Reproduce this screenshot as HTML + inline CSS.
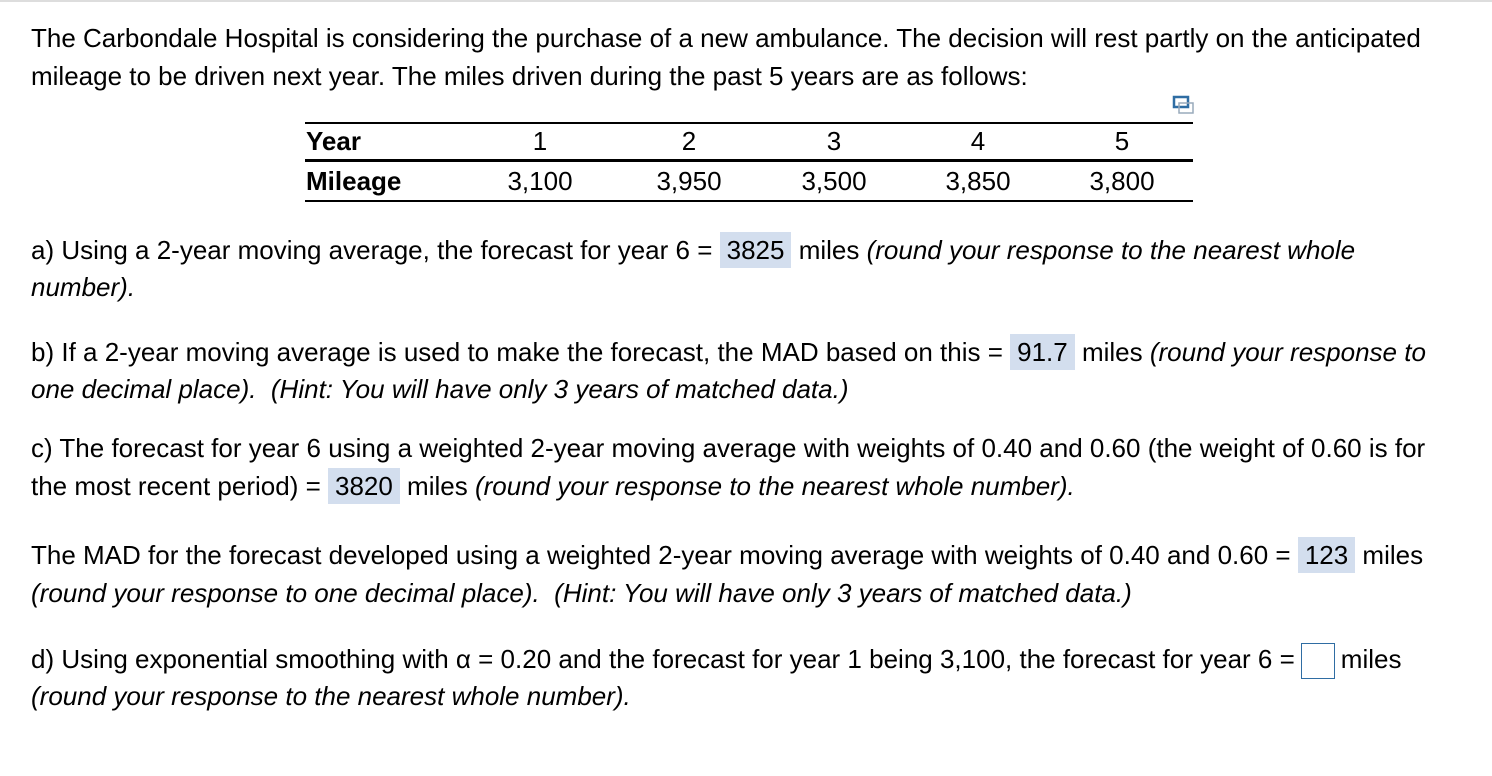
<!DOCTYPE html>
<html><head><meta charset="utf-8"><style>
body{margin:0;width:1492px;height:776px;background:#fff;position:relative;overflow:hidden;font-family:"Liberation Sans",Arial,sans-serif;color:#000;}
.l{position:absolute;left:31px;font-size:26px;line-height:38px;height:38px;white-space:nowrap;}
.h{background:#d3deee;padding:0 7px;display:inline-block;line-height:36px;}
.box{display:inline-block;width:32px;height:34px;border:1.5px solid #2f6da3;vertical-align:middle;margin:0 6px;}
.hr{position:absolute;left:305px;width:888px;background:#000;}
.t{position:absolute;font-size:26px;line-height:30px;white-space:nowrap;}
.c{transform:translateX(-50%);}
</style></head><body>
<div style="position:absolute;left:0;top:0;width:1492px;height:2px;background:#ddd"></div>
<div class="l" style="top:19px">The Carbondale Hospital is considering the purchase of a new ambulance. The decision will rest partly on the anticipated</div>
<div class="l" style="top:57px">mileage to be driven next year. The miles driven during the past 5 years are as follows:</div>
<svg style="position:absolute;left:1172px;top:95px" width="24" height="22"><rect x="2" y="2" width="14" height="10" fill="#fff" stroke="#2f6da3" stroke-width="2.5"/><rect x="7" y="8" width="14" height="10" fill="none" stroke="#9ab" stroke-width="1.5"/></svg>
<div class="hr" style="top:122px;height:2px"></div>
<div class="hr" style="top:159px;height:3px"></div>
<div class="hr" style="top:200px;height:1.5px"></div>
<div class="t" style="left:306px;top:126px;font-weight:bold">Year</div>
<div class="t" style="left:306px;top:166px;font-weight:bold">Mileage</div>
<div class="t c" style="left:540px;top:126px">1</div>
<div class="t c" style="left:689px;top:126px">2</div>
<div class="t c" style="left:834px;top:126px">3</div>
<div class="t c" style="left:978px;top:126px">4</div>
<div class="t c" style="left:1122px;top:126px">5</div>
<div class="t c" style="left:540px;top:166px">3,100</div>
<div class="t c" style="left:689px;top:166px">3,950</div>
<div class="t c" style="left:834px;top:166px">3,500</div>
<div class="t c" style="left:978px;top:166px">3,850</div>
<div class="t c" style="left:1122px;top:166px">3,800</div>
<div class="l" style="top:231px">a) Using a 2-year moving average, the forecast for year 6 = <span class="h">3825</span> miles <i>(round your response to the nearest whole</i></div>
<div class="l" style="top:268px"><i>number).</i></div>
<div class="l" style="top:333px">b) If a 2-year moving average is used to make the forecast, the MAD based on this = <span class="h">91.7</span> miles <i>(round your response to</i></div>
<div class="l" style="top:370px"><i>one decimal place).&nbsp; (Hint: You will have only 3 years of matched data.)</i></div>
<div class="l" style="top:429px">c) The forecast for year 6 using a weighted 2-year moving average with weights of 0.40 and 0.60 (the weight of 0.60 is for</div>
<div class="l" style="top:467px">the most recent period) = <span class="h">3820</span> miles <i>(round your response to the nearest whole number).</i></div>
<div class="l" style="top:536px">The MAD for the forecast developed using a weighted 2-year moving average with weights of 0.40 and 0.60 = <span class="h">123</span> miles</div>
<div class="l" style="top:574px"><i>(round your response to one decimal place).&nbsp; (Hint: You will have only 3 years of matched data.)</i></div>
<div class="l" style="top:640px">d) Using exponential smoothing with α = 0.20 and the forecast for year 1 being 3,100, the forecast for year 6 =<span class="box"></span>miles</div>
<div class="l" style="top:677px"><i>(round your response to the nearest whole number).</i></div>
</body></html>
